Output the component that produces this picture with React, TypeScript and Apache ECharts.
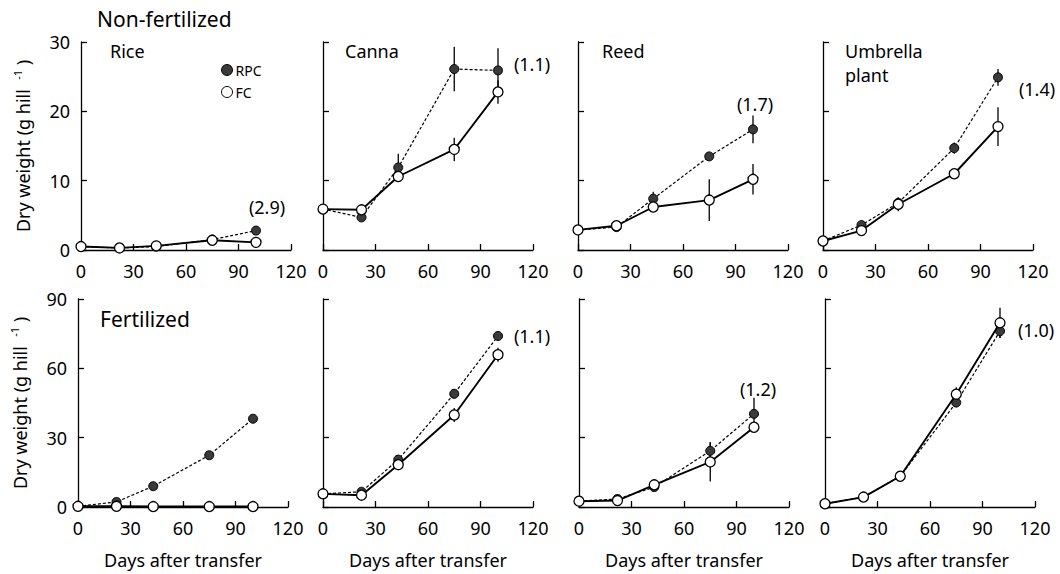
import React, { useEffect, useRef } from "react";
import * as echarts from "echarts";

// ---- data ----
const days = [0, 22, 43, 75, 100];
const xTicks = [0, 30, 60, 90, 120];

const panelNames = ["Rice", "Canna", "Reed", "Umbrella\nplant", "", "", "", ""];
const rowTitles = ["Non-fertilized", "Fertilized"];
const ratioLabels = ["(2.9)", "(1.1)", "(1.7)", "(1.4)", "", "(1.1)", "(1.2)", "(1.0)"];

// Non-fertilized
const riceNF_RPC = [0.5, 0.3, 0.5, 1.5, 2.8];
const riceNF_FC = [0.5, 0.3, 0.6, 1.4, 1.1];
const cannaNF_RPC = [5.9, 4.7, 11.9, 26.1, 25.9];
const cannaNF_FC = [5.9, 5.8, 10.6, 14.5, 22.8];
const reedNF_RPC = [2.9, 3.3, 7.4, 13.5, 17.4];
const reedNF_FC = [2.9, 3.5, 6.2, 7.2, 10.2];
const umbNF_RPC = [1.3, 3.6, 6.8, 14.7, 24.9];
const umbNF_FC = [1.3, 2.8, 6.6, 11.0, 17.8];
// Fertilized
const riceF_RPC = [0.3, 2.2, 9.0, 22.4, 38.2];
const riceF_FC = [0.3, 0.3, 0.2, 0.2, 0.2];
const cannaF_RPC = [5.7, 6.6, 20.5, 49.0, 74.0];
const cannaF_FC = [5.7, 5.1, 18.3, 39.8, 65.9];
const reedF_RPC = [2.5, 3.5, 8.6, 24.3, 40.3];
const reedF_FC = [2.5, 2.8, 9.6, 19.5, 34.5];
const umbF_RPC = [1.4, 4.3, 13.3, 45.2, 76.1];
const umbF_FC = [1.4, 4.3, 13.3, 48.8, 79.7];

// error bar half-widths (same order as days)
const riceNF_RPC_err = [0, 0, 0, 0.3, 0.3];
const riceNF_FC_err = [0, 0, 0, 0.3, 0];
const cannaNF_RPC_err = [0, 0.5, 2.0, 3.2, 3.2];
const cannaNF_FC_err = [0, 0, 0.3, 1.7, 1.7];
const reedNF_RPC_err = [0, 0, 1.0, 0.4, 2.0];
const reedNF_FC_err = [0, 0, 0.4, 3.0, 2.2];
const umbNF_RPC_err = [0, 0.3, 0.5, 0.8, 1.2];
const umbNF_FC_err = [0, 0.3, 1.0, 0.3, 2.8];
const riceF_RPC_err = [0, 0.5, 0.8, 1.0, 1.5];
const riceF_FC_err = [0, 0, 0, 0, 0];
const cannaF_RPC_err = [0, 0.5, 1.0, 2.0, 1.0];
const cannaF_FC_err = [0, 0.5, 1.5, 3.0, 3.0];
const reedF_RPC_err = [0, 0.5, 1.0, 3.7, 7.0];
const reedF_FC_err = [0, 0.5, 1.0, 8.5, 1.5];
const umbF_RPC_err = [0, 0.5, 1.5, 2.0, 3.0];
const umbF_FC_err = [0, 0.5, 2.0, 3.0, 6.5];

const rpcSets = [riceNF_RPC, cannaNF_RPC, reedNF_RPC, umbNF_RPC, riceF_RPC, cannaF_RPC, reedF_RPC, umbF_RPC];
const fcSets = [riceNF_FC, cannaNF_FC, reedNF_FC, umbNF_FC, riceF_FC, cannaF_FC, reedF_FC, umbF_FC];
const rpcErrSets = [riceNF_RPC_err, cannaNF_RPC_err, reedNF_RPC_err, umbNF_RPC_err, riceF_RPC_err, cannaF_RPC_err, reedF_RPC_err, umbF_RPC_err];
const fcErrSets = [riceNF_FC_err, cannaNF_FC_err, reedNF_FC_err, umbNF_FC_err, riceF_FC_err, cannaF_FC_err, reedF_FC_err, umbF_FC_err];

const yMaxRow = [30, 90];
const yIntervalRow = [10, 30];

// ---- layout ----
const FONT = "Noto Sans";
const gridLefts = [81, 323, 578, 823, 78, 323, 579, 825];
const gridTops = [42, 299];
const gridW = 210;
const gridH = 208;
const labelOffsets = [[11, -24], [34, -6], [2, -25], [39, 12], [0, 0], [34, 0], [4, -25], [36, -1]];
const titleOffsets = [29, 22, 24, 22, 0, 0, 0, 0];

function buildOption() {
  const grids: any[] = [];
  const xAxes: any[] = [];
  const yAxes: any[] = [];
  const series: any[] = [];
  const graphics: any[] = [];

  for (let i = 0; i < 8; i++) {
    const row = i < 4 ? 0 : 1;
    const col = i % 4;
    grids.push({ left: gridLefts[i], top: gridTops[row], width: gridW, height: gridH, containLabel: false });
    xAxes.push({
      type: "value",
      gridIndex: i,
      min: xTicks[0],
      max: xTicks[xTicks.length - 1],
      interval: 30,
      axisLine: { show: true, lineStyle: { color: "#000", width: 1.3 } },
      axisTick: { show: true, inside: true, length: 6, lineStyle: { color: "#000", width: 1.3 } },
      axisLabel: { show: true, color: "#000", fontSize: 18, fontFamily: FONT, margin: 12 },
      splitLine: { show: false },
      name: row === 1 ? "Days after transfer" : "",
      nameLocation: "middle",
      nameGap: 44,
      nameTextStyle: { color: "#000", fontSize: 18, fontFamily: FONT },
    });
    yAxes.push({
      type: "value",
      gridIndex: i,
      min: 0,
      max: yMaxRow[row],
      interval: yIntervalRow[row],
      axisLine: { show: true, lineStyle: { color: "#000", width: 1.3 } },
      axisTick: { show: true, inside: true, length: 6, lineStyle: { color: "#000", width: 1.3 } },
      axisLabel: { show: col === 0, color: "#000", fontSize: 18, fontFamily: FONT, margin: 11 },
      splitLine: { show: false },
      name: col === 0 ? "{n|Dry weight (g hill  }{s|-1}{n| )}" : "",
      nameLocation: "middle",
      nameRotate: 90,
      nameGap: 47,
      nameTextStyle: {
        color: "#000",
        fontFamily: FONT,
        rich: {
          n: { fontSize: 18, fontFamily: FONT, color: "#000", lineHeight: 22 },
          s: { fontSize: 11, fontFamily: FONT, color: "#000", lineHeight: 22, verticalAlign: "top" },
        },
      },
    });

    const rpc = rpcSets[i];
    const fc = fcSets[i];
    const last = days.length - 1;

    // error bars
    const errData: any[] = [];
    days.forEach((d, k) => {
      if (rpcErrSets[i][k] > 0) errData.push([d, rpc[k], rpcErrSets[i][k]]);
      if (fcErrSets[i][k] > 0) errData.push([d, fc[k], fcErrSets[i][k]]);
    });
    series.push({
      type: "custom",
      name: "err" + i,
      xAxisIndex: i,
      yAxisIndex: i,
      z: 1,
      silent: true,
      encode: { x: 0, y: 1 },
      data: errData,
      renderItem: (params: any, api: any) => {
        const x = api.value(0);
        const y = api.value(1);
        const e = api.value(2);
        const p1 = api.coord([x, y - e]);
        const p2 = api.coord([x, y + e]);
        return {
          type: "line",
          shape: { x1: p1[0], y1: p1[1], x2: p2[0], y2: p2[1] },
          style: { stroke: "#000", lineWidth: 1.3 },
        };
      },
    });

    series.push({
      type: "line",
      name: "RPC",
      xAxisIndex: i,
      yAxisIndex: i,
      z: 2,
      symbol: "circle",
      symbolSize: 9,
      showSymbol: true,
      lineStyle: { color: "#000", width: 1.2, type: [3, 2] },
      itemStyle: { color: "#3a3a3a", borderColor: "#000", borderWidth: 1 },
      data: days.map((d, k) => {
        if (k === last && ratioLabels[i]) {
          return {
            value: [d, rpc[k]],
            label: {
              show: true,
              formatter: ratioLabels[i],
              position: ["50%", "50%"],
              align: "center",
              verticalAlign: "middle",
              offset: labelOffsets[i],
              color: "#000",
              fontSize: 18,
              fontFamily: FONT,
            },
          };
        }
        return [d, rpc[k]];
      }),
    });
    series.push({
      type: "line",
      name: "FC",
      xAxisIndex: i,
      yAxisIndex: i,
      z: 3,
      symbol: "circle",
      symbolSize: 10,
      showSymbol: true,
      lineStyle: { color: "#000", width: 1.9 },
      itemStyle: { color: "#fff", borderColor: "#000", borderWidth: 1.3 },
      data: days.map((d, k) => [d, fc[k]]),
    });

    if (panelNames[i]) {
      graphics.push({
        type: "text",
        left: gridLefts[i] + titleOffsets[i],
        top: gridTops[row] - 3,
        style: { text: panelNames[i], fill: "#000", fontSize: 18, fontFamily: FONT, lineHeight: 24 },
      });
    }
  }

  graphics.push({
    type: "text",
    left: 97,
    top: 8,
    style: { text: rowTitles[0], fill: "#000", fontSize: 21, fontFamily: FONT },
  });
  graphics.push({
    type: "text",
    left: 100,
    top: 308,
    style: { text: rowTitles[1], fill: "#000", fontSize: 21, fontFamily: FONT },
  });

  return {
    animation: false,
    backgroundColor: "#fff",
    textStyle: { fontFamily: FONT, color: "#000" },
    grid: grids,
    xAxis: xAxes,
    yAxis: yAxes,
    series,
    graphic: graphics,
    legend: {
      data: [
        { name: "RPC", icon: "circle", itemStyle: { color: "#3a3a3a", borderColor: "#000", borderWidth: 1 } },
        { name: "FC", icon: "circle", itemStyle: { color: "#fff", borderColor: "#000", borderWidth: 1 } },
      ],
      orient: "vertical",
      left: 216,
      top: 58,
      itemWidth: 11,
      itemHeight: 11,
      itemGap: 8,
      selectedMode: false,
      textStyle: { fontSize: 14, color: "#000", fontFamily: FONT, padding: [0, 0, 0, -2] },
    },
  };
}

export default function App() {
  const ref = useRef<HTMLDivElement>(null);
  useEffect(() => {
    if (!ref.current) return;
    const chart = echarts.init(ref.current, null, { renderer: "svg" });
    chart.setOption(buildOption() as any);
    return () => chart.dispose();
  }, []);
  return (
    <div
      ref={ref}
      style={{ position: "fixed", left: 0, top: 0, width: 1060, height: 574, background: "#fff" }}
    />
  );
}
